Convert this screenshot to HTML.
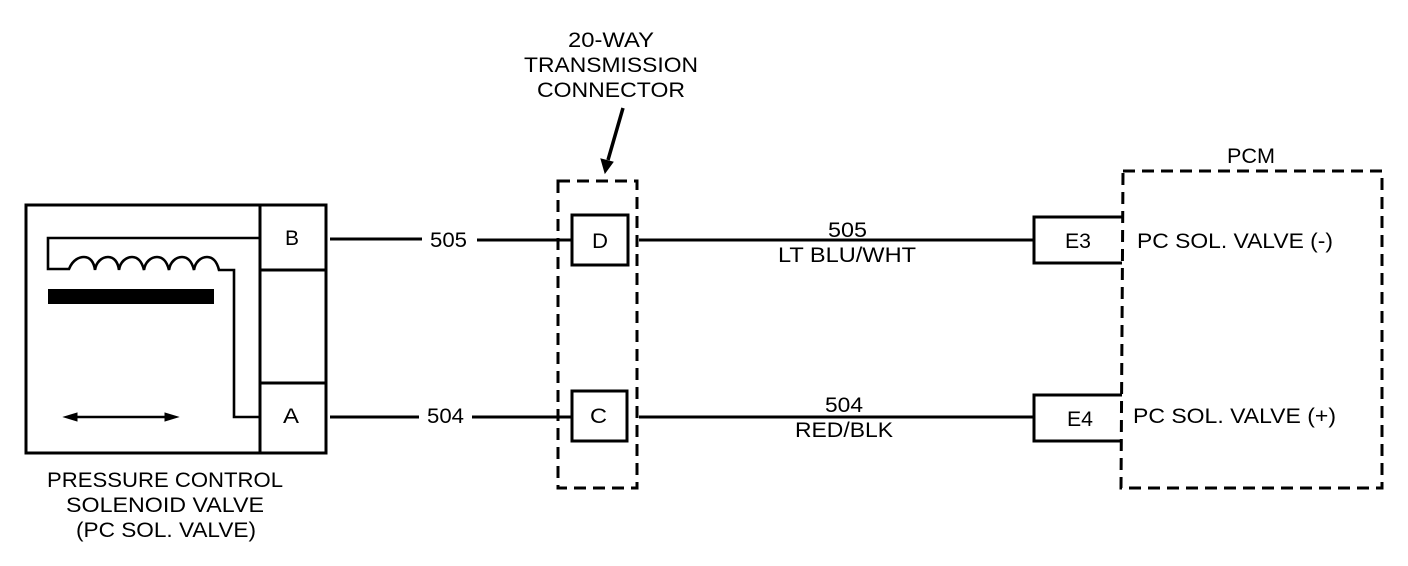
<!DOCTYPE html>
<html><head><meta charset="utf-8"><style>
html,body{margin:0;padding:0;background:#fff;width:1408px;height:566px;overflow:hidden}
svg{display:block}
text{font-family:"Liberation Sans",sans-serif;font-size:21px;fill:#000;text-anchor:start}
</style></head><body>
<svg width="1408" height="566" viewBox="0 0 1408 566" xmlns="http://www.w3.org/2000/svg">
<g fill="none" stroke="#000" stroke-width="3">
<rect x="26" y="205" width="300" height="248"/>
<path d="M260 205V453M260 270H326M260 383H326"/>
<path stroke-width="2.6" d="M259 238H48V269H69C73 259 80 257 84 257C90 257 94 262 95 270C96 262 102 257 108 257C114 257 118 262 119 270C120 262 126 257 132 257C138 257 142 262 144 270C145 262 151 257 157 257C163 257 167 262 169 270C170 262 176 257 182 257C188 257 192 262 194 270C195 262 201 257 207 257C213 257 217 262 219 270H234V417H259"/>
<path d="M76 417H168" stroke-width="2.6"/>
<path d="M330 239H422M477 240H571M330 417H419M472 417H571M639 240H1034M639 417H1034"/>
<rect x="572" y="215" width="56" height="50"/>
<rect x="572" y="391" width="55" height="50"/>
<path d="M1122 217H1034V263H1122M1122 395H1034V441H1122"/>
<path d="M558 181H637V488H558Z" stroke-dasharray="12 7"/>
<path d="M1123 171H1382V488H1121Z" stroke-dasharray="12 7"/>
<path d="M623 108L608 160" stroke-width="3.5"/>
</g>
<rect x="48" y="289" width="166" height="15" fill="#000"/>
<path d="M64 417L77 413V421ZM178 417L165 413V421ZM605 173L601 159L613 162Z" fill="#000" stroke="#000"/>
<text x="285" y="245" textLength="14" lengthAdjust="spacingAndGlyphs">B</text>
<text x="283" y="423" textLength="16" lengthAdjust="spacingAndGlyphs">A</text>
<text x="430" y="247" textLength="37" lengthAdjust="spacingAndGlyphs">505</text>
<text x="427" y="423" textLength="37" lengthAdjust="spacingAndGlyphs">504</text>
<text x="592" y="248" textLength="16" lengthAdjust="spacingAndGlyphs">D</text>
<text x="590" y="423" textLength="17" lengthAdjust="spacingAndGlyphs">C</text>
<text x="828" y="237" textLength="39" lengthAdjust="spacingAndGlyphs">505</text>
<text x="778" y="262" textLength="138" lengthAdjust="spacingAndGlyphs">LT BLU/WHT</text>
<text x="825" y="412" textLength="38" lengthAdjust="spacingAndGlyphs">504</text>
<text x="795" y="437" textLength="98" lengthAdjust="spacingAndGlyphs">RED/BLK</text>
<text x="1065" y="248" textLength="26" lengthAdjust="spacingAndGlyphs">E3</text>
<text x="1067" y="426" textLength="26" lengthAdjust="spacingAndGlyphs">E4</text>
<text x="1137" y="248" textLength="196" lengthAdjust="spacingAndGlyphs">PC SOL. VALVE (-)</text>
<text x="1133" y="423" textLength="203" lengthAdjust="spacingAndGlyphs">PC SOL. VALVE (+)</text>
<text x="1227" y="163" textLength="48" lengthAdjust="spacingAndGlyphs">PCM</text>
<text x="568" y="47" textLength="86" lengthAdjust="spacingAndGlyphs">20-WAY</text>
<text x="524" y="72" textLength="174" lengthAdjust="spacingAndGlyphs">TRANSMISSION</text>
<text x="537" y="97" textLength="148" lengthAdjust="spacingAndGlyphs">CONNECTOR</text>
<text x="47" y="487" textLength="236" lengthAdjust="spacingAndGlyphs">PRESSURE CONTROL</text>
<text x="66" y="512" textLength="198" lengthAdjust="spacingAndGlyphs">SOLENOID VALVE</text>
<text x="76" y="537" textLength="180" lengthAdjust="spacingAndGlyphs">(PC SOL. VALVE)</text>
</svg>
</body></html>
